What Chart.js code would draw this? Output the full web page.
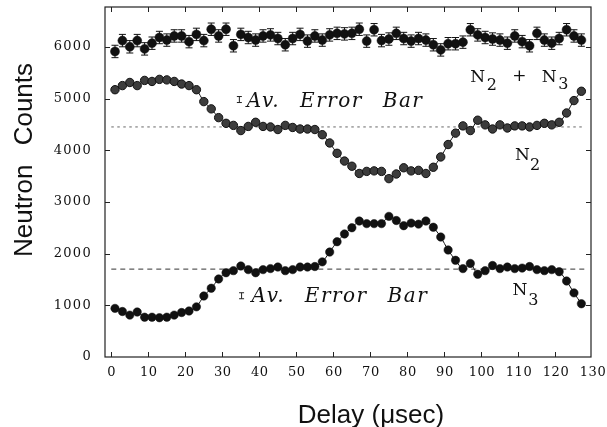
<!DOCTYPE html>
<html lang="en">
<head>
<meta charset="UTF-8">
<title>Neutron Counts vs Delay</title>
<script src="https://cdn.jsdelivr.net/npm/chart.js"></script>
<style>
  html, body { margin: 0; padding: 0; background: #fff; }
  #wrap { width: 607px; height: 427px; }
</style>
</head>
<body>
<div id="wrap"><canvas id="delayChart" width="607" height="427"></canvas></div>
<script>
// delay in microseconds, one point every 2 usec
const delay = [1, 3, 5, 7, 9, 11, 13, 15, 17, 19, 21, 23, 25, 27, 29, 31,
  33, 35, 37, 39, 41, 43, 45, 47, 49, 51, 53, 55, 57, 59, 61, 63,
  65, 67, 69, 71, 73, 75, 77, 79, 81, 83, 85, 87, 89, 91, 93, 95,
  97, 99, 101, 103, 105, 107, 109, 111, 113, 115, 117, 119, 121, 123, 125, 127];

// N2 + N3 total counts
const sumCounts = [5910, 6120, 6000, 6120, 5960, 6070, 6180, 6130, 6210, 6210,
  6100, 6240, 6120, 6340, 6210, 6340, 6020, 6240, 6180, 6130,
  6210, 6230, 6160, 6040, 6160, 6240, 6110, 6210, 6130, 6230,
  6260, 6250, 6260, 6340, 6110, 6330, 6120, 6150, 6260, 6160,
  6110, 6160, 6130, 6040, 5940, 6060, 6060, 6090, 6330, 6230,
  6180, 6150, 6130, 6070, 6210, 6100, 6020, 6260, 6130, 6070,
  6160, 6330, 6210, 6130];

const n2Counts = [5170, 5250, 5310, 5250, 5350, 5330, 5370, 5360, 5330, 5280,
  5250, 5170, 4940, 4800, 4630, 4520, 4480, 4380, 4460, 4540,
  4460, 4450, 4400, 4480, 4440, 4410, 4410, 4400, 4300, 4140,
  3940, 3790, 3690, 3550, 3590, 3600, 3590, 3450, 3540, 3660,
  3600, 3610, 3550, 3670, 3870, 4110, 4330, 4470, 4380, 4580,
  4490, 4410, 4490, 4430, 4470, 4470, 4450, 4480, 4520, 4490,
  4540, 4720, 4960, 5140];

const n3Counts = [940, 880, 810, 870, 770, 770, 760, 770, 810, 860,
  890, 970, 1180, 1330, 1510, 1630, 1670, 1760, 1690, 1630,
  1690, 1710, 1740, 1670, 1690, 1740, 1740, 1750, 1840, 2030,
  2230, 2380, 2500, 2630, 2580, 2580, 2580, 2720, 2640, 2540,
  2590, 2570, 2630, 2510, 2320, 2070, 1870, 1710, 1810, 1600,
  1670, 1770, 1710, 1740, 1710, 1720, 1750, 1690, 1670, 1690,
  1650, 1470, 1240, 1030];

const sumErr = 120;      // error bar on the total counts
const avgErr = 58;       // average error bar for N2 / N3
const n2Level = 4450;    // N2 baseline
const n3Level = 1700;    // N3 baseline
const delayRange = [0, 128];

const xTicks = [0, 10, 20, 30, 40, 50, 60, 70, 80, 90, 100, 110, 120, 130];
const yTicks = [0, 1000, 2000, 3000, 4000, 5000, 6000];

const pts = (ys) => delay.map((d, i) => ({ x: d, y: ys[i] }));
const flat = (v) => delayRange.map(d => ({ x: d, y: v }));

const INK = '#111';
const serif = '"DejaVu Serif", serif';
const sans = '"Liberation Sans", Arial, sans-serif';

// frame, inward ticks, tick labels, titles and text labels
const decor = {
  id: 'decor',
  beforeDatasetsDraw(chart) {
    const { ctx, scales: { x, y } } = chart;
    ctx.save();
    ctx.strokeStyle = INK;
    ctx.lineWidth = 1;
    delay.forEach((d, i) => {
      const px = x.getPixelForValue(d);
      const hi = y.getPixelForValue(sumCounts[i] + sumErr);
      const lo = y.getPixelForValue(sumCounts[i] - sumErr);
      ctx.beginPath();
      ctx.moveTo(px, hi); ctx.lineTo(px, lo);
      ctx.moveTo(px - 3.5, hi); ctx.lineTo(px + 3.5, hi);
      ctx.moveTo(px - 3.5, lo); ctx.lineTo(px + 3.5, lo);
      ctx.stroke();
    });
    ctx.restore();
  },
  afterDraw(chart) {
    const { ctx, chartArea: a, scales: { x, y } } = chart;
    ctx.save();
    ctx.strokeStyle = '#222';
    ctx.lineWidth = 1.2;
    ctx.strokeRect(a.left, a.top, a.right - a.left, a.bottom - a.top);

    ctx.lineWidth = 1;
    ctx.beginPath();
    xTicks.forEach(t => {
      const px = Math.round(x.getPixelForValue(t)) + 0.5;
      if (px > a.right - 1) return;
      ctx.moveTo(px, a.bottom); ctx.lineTo(px, a.bottom - 5);
      ctx.moveTo(px, a.top); ctx.lineTo(px, a.top + 5);
    });
    yTicks.forEach(t => {
      const py = Math.round(y.getPixelForValue(t)) + 0.5;
      if (py > a.bottom - 1) return;
      ctx.moveTo(a.left, py); ctx.lineTo(a.left + 5, py);
      ctx.moveTo(a.right, py); ctx.lineTo(a.right - 5, py);
    });
    ctx.stroke();

    ctx.fillStyle = INK;
    ctx.font = '13px ' + serif;
    ctx.textBaseline = 'middle';
    ctx.letterSpacing = '0.6px';
    ctx.textAlign = 'center';
    xTicks.forEach(t => ctx.fillText(String(t), x.getPixelForValue(t) + 0.5, a.bottom + 16));
    ctx.letterSpacing = '1.3px';
    ctx.textAlign = 'right';
    yTicks.forEach(t => ctx.fillText(String(t), a.left - 13, y.getPixelForValue(t)));

    // axis titles
    ctx.letterSpacing = '0px';
    ctx.textBaseline = 'alphabetic';
    ctx.textAlign = 'center';
    ctx.font = '26px ' + sans;
    ctx.fillText('Delay (\u03bcsec)', 371, 423);
    ctx.save();
    ctx.translate(32, 160);
    ctx.rotate(-Math.PI / 2);
    ctx.wordSpacing = '12px';
    ctx.fillText('Neutron Counts', 0, 0);
    ctx.restore();

    // average error bar markers and their captions
    const glyph = (dx, dy) => {
      const px = x.getPixelForValue(dx);
      const hi = y.getPixelForValue(dy + avgErr);
      const lo = y.getPixelForValue(dy - avgErr);
      ctx.beginPath();
      ctx.moveTo(px, hi); ctx.lineTo(px, lo);
      ctx.moveTo(px - 2.5, hi); ctx.lineTo(px + 2.5, hi);
      ctx.moveTo(px - 2.5, lo); ctx.lineTo(px + 2.5, lo);
      ctx.stroke();
    };
    glyph(34.6, 4980);
    glyph(35.2, 1185);
    ctx.textAlign = 'left';
    ctx.font = 'italic 20px ' + serif;
    ctx.letterSpacing = '1.5px';
    ctx.wordSpacing = '12px';
    ctx.fillText('Av. Error Bar', x.getPixelForValue(36.6), y.getPixelForValue(4840));
    ctx.fillText('Av. Error Bar', x.getPixelForValue(37.9), y.getPixelForValue(1070));
    ctx.wordSpacing = '0px';
    ctx.letterSpacing = '0px';

    // series labels: [text, px offset, baseline offset, font size]
    const label = (dx, dy, parts) => {
      const px = x.getPixelForValue(dx);
      const py = y.getPixelForValue(dy);
      parts.forEach(([s, ox, oy, size]) => {
        ctx.font = size + 'px ' + serif;
        ctx.fillText(s, px + ox, py + oy);
      });
    };
    label(97.0, 5325, [['N', 0, 0, 17], ['2', 16.5, 8.5, 16], ['+', 42, -1, 17], ['N', 71.5, 0, 17], ['3', 88, 7, 16]]);
    label(109.1, 3810, [['N', 0, 0, 17], ['2', 15, 10, 16]]);
    label(108.4, 1200, [['N', 0, 0, 17], ['3', 15.7, 10, 16]]);
    ctx.restore();
  }
};

new Chart(document.getElementById('delayChart'), {
  type: 'line',
  data: {
    datasets: [
      {
        label: 'N2 + N3',
        data: pts(sumCounts),
        showLine: false,
        pointRadius: 4.5,
        pointBackgroundColor: INK,
        pointBorderColor: INK,
        pointBorderWidth: 0.5,
        order: 1
      },
      {
        label: 'N2',
        data: pts(n2Counts),
        borderColor: INK,
        borderWidth: 1,
        tension: 0.3,
        pointRadius: 4.2,
        pointBackgroundColor: '#3c3c3c',
        pointBorderColor: '#111',
        pointBorderWidth: 1,
        order: 2
      },
      {
        label: 'N3',
        data: pts(n3Counts),
        borderColor: INK,
        borderWidth: 1,
        tension: 0.3,
        pointRadius: 4.2,
        pointBackgroundColor: INK,
        pointBorderColor: INK,
        pointBorderWidth: 0.5,
        order: 3
      },
      {
        label: 'N2 level',
        data: flat(n2Level),
        borderColor: '#666',
        borderWidth: 1,
        borderDash: [2.5, 3.5],
        pointRadius: 0,
        order: 10
      },
      {
        label: 'N3 level',
        data: flat(n3Level),
        borderColor: '#333',
        borderWidth: 1,
        borderDash: [5, 4],
        pointRadius: 0,
        order: 10
      }
    ]
  },
  options: {
    responsive: false,
    animation: false,
    layout: { padding: { left: 105, right: 16, top: 7, bottom: 70 } },
    plugins: { legend: { display: false }, tooltip: { enabled: false } },
    scales: {
      x: { type: 'linear', min: -1.7, max: 129.6, display: false },
      y: { type: 'linear', min: 0, max: 6770, display: false }
    }
  },
  plugins: [decor]
});
</script>
</body>
</html>
